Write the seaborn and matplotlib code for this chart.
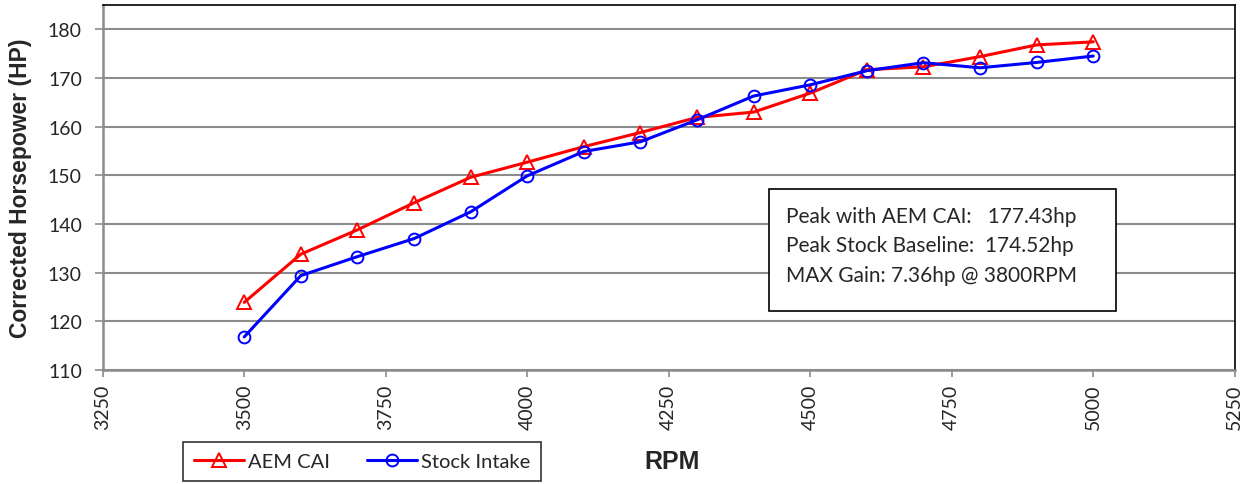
import matplotlib
matplotlib.use("Agg")
import matplotlib.pyplot as plt
import seaborn as sns
import pandas as pd
from matplotlib.patches import Rectangle
from matplotlib.font_manager import fontManager

rpm = [3500, 3600, 3700, 3800, 3900, 4000, 4100, 4200, 4300, 4400, 4500, 4600, 4700, 4800, 4900, 5000]
aem_cai = [123.9, 133.8, 138.8, 144.36, 149.6, 152.7, 155.9, 158.8, 161.9, 163.0, 166.9, 171.7, 172.3, 174.4, 176.8, 177.43]
stock_intake = [116.8, 129.4, 133.3, 137.0, 142.5, 149.9, 154.9, 156.9, 161.4, 166.3, 168.6, 171.5, 173.15, 172.1, 173.2, 174.52]
series_names = ["AEM CAI", "Stock Intake"]
x_ticks = [3250, 3500, 3750, 4000, 4250, 4500, 4750, 5000, 5250]
y_ticks = [110, 120, 130, 140, 150, 160, 170, 180]
box_lines = ["Peak with AEM CAI:   177.43hp", "Peak Stock Baseline:  174.52hp", "MAX Gain: 7.36hp @ 3800RPM"]

sns.set_theme(style="white")
names = {f.name for f in fontManager.ttflist}
body_font = "Lato" if "Lato" in names else "DejaVu Sans"
label_font = "Liberation Sans" if "Liberation Sans" in names else "DejaVu Sans"
rpm_font = "Liberation Sans Narrow" if "Liberation Sans Narrow" in names else label_font
plt.rcParams['font.family'] = [body_font, 'DejaVu Sans']

df = pd.DataFrame({"RPM": rpm * 2,
                   "HP": aem_cai + stock_intake,
                   "Series": [series_names[0]] * len(rpm) + [series_names[1]] * len(rpm)})

fig = plt.figure(figsize=(12.51, 4.85), dpi=100)
ax = fig.add_axes([0.0821, 0.235, 0.9049, 0.7526])

styles = {"AEM CAI": ("#FF0000", "^", 9.5), "Stock Intake": ("#0000FF", "o", 8.5)}
for name in series_names:
    col, mk, ms = styles[name]
    sns.lineplot(data=df[df["Series"] == name], x="RPM", y="HP", ax=ax, color=col,
                 linewidth=2.2, marker=mk, markersize=ms, markerfacecolor="none",
                 markeredgecolor=col, markeredgewidth=1.4, label=name, zorder=3)

ax.set_xlim(3250, 5250)
ax.set_ylim(110, 185)
ax.set_xticks(x_ticks)
ax.set_yticks(y_ticks)
ax.set_xticklabels([str(t) for t in x_ticks], rotation=90)
ax.grid(axis="y", color="#8c8c8c", linewidth=1.5)
ax.grid(axis="x", visible=False)
ax.tick_params(axis="y", direction="out", length=6, width=1.2, color="#8c8c8c", pad=9, labelsize=14, left=True)
ax.tick_params(axis="x", direction="out", length=5, width=1.2, color="#8c8c8c", pad=5, labelsize=14, bottom=True)
for s in ["left", "bottom"]:
    ax.spines[s].set_color("#8c8c8c")
    ax.spines[s].set_linewidth(1.8)
for s in ["top", "right"]:
    ax.spines[s].set_color("black")
    ax.spines[s].set_linewidth(1.2)

ax.set_ylabel("Corrected Horsepower (HP)", fontsize=16.5, fontweight="bold", family=label_font)
ax.yaxis.set_label_coords(-0.0625, 0.5)
ax.set_xlabel("RPM", fontsize=18, fontweight="bold", family=rpm_font)
ax.xaxis.set_label_coords(0.503, -0.216)

# annotation box
bx0 = (769 - 102.7) / 1132.3
by1 = (371 - 190) / 365.0
bw = 347 / 1132.3
bh = 122 / 365.0
ax.add_patch(Rectangle((bx0, by1 - bh), bw, bh, transform=ax.transAxes, facecolor="white",
                       edgecolor="black", linewidth=1.2, zorder=4))
tx = (786 - 102.7) / 1132.3
for i, line in enumerate(box_lines):
    ty = (371 - (216.5 + i * 29.5)) / 365.0
    ax.text(tx, ty, line, transform=ax.transAxes, fontsize=15, va="center", ha="left", zorder=5)

ax.get_legend().remove()
h, l = ax.get_legend_handles_labels()
leg = fig.legend(h, l, loc="center", bbox_to_anchor=(362 / 1251, 1 - 462.5 / 485), ncol=2,
                 frameon=True, fancybox=False, edgecolor="black", fontsize=14.5,
                 handlelength=2.5, handletextpad=0.2, columnspacing=1.8, borderpad=0.55)
leg.get_frame().set_linewidth(1.2)

fig.savefig("out.png", dpi=100)
